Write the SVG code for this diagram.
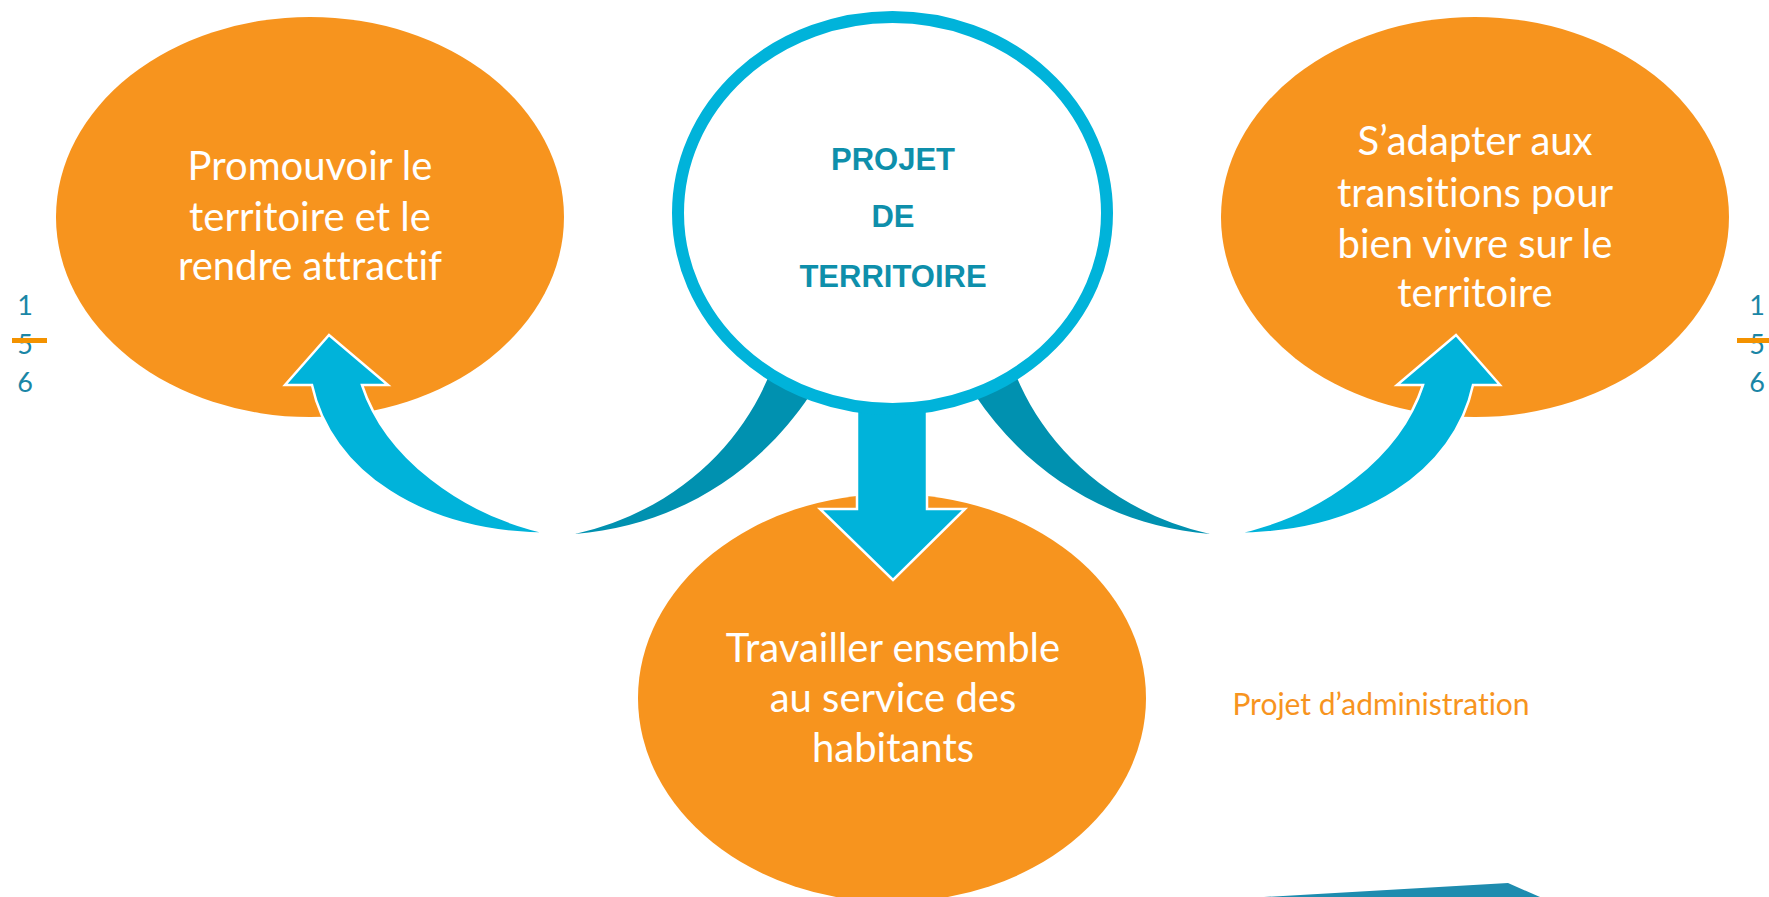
<svg xmlns="http://www.w3.org/2000/svg" width="1769" height="897" viewBox="0 0 1769 897">
<defs>
<style>
.bubble{fill:#F7941E;}
.btxt{fill:#FFFFFF;font-family:Lato,"Open Sans",sans-serif;font-size:40px;text-anchor:middle;font-variant-ligatures:none;}
.light{fill:#00B3DA;stroke:#FFFFFF;stroke-width:2.5;stroke-linejoin:miter;}
.dark{fill:#0091B0;}
.title{fill:#0E8FAB;font-family:"Liberation Sans",Arial,sans-serif;font-weight:bold;font-size:31px;text-anchor:middle;}
.num{fill:#1A86A6;font-family:Lato,"Open Sans",sans-serif;font-size:27px;text-anchor:middle;}
.bar{fill:#F39200;}
</style>
</defs>
<rect width="1769" height="897" fill="#FFFFFF"/>

<g id="node-promouvoir">
<ellipse class="bubble" cx="310" cy="217" rx="254" ry="200"/>
<text class="btxt" x="310" y="180">Promouvoir le</text>
<text class="btxt" x="310" y="231">territoire et le</text>
<text class="btxt" x="310" y="280">rendre attractif</text>
</g>

<g id="node-adapter">
<ellipse class="bubble" cx="1475" cy="217" rx="254" ry="200"/>
<text class="btxt" x="1475" y="155">S’adapter aux</text>
<text class="btxt" x="1475" y="207">transitions pour</text>
<text class="btxt" x="1475" y="258">bien vivre sur le</text>
<text class="btxt" x="1475" y="307">territoire</text>
</g>

<g id="node-travailler">
<ellipse class="bubble" cx="892" cy="698" rx="254" ry="204"/>
<text class="btxt" x="893" y="662">Travailler ensemble</text>
<text class="btxt" x="893" y="712">au service des</text>
<text class="btxt" x="893" y="762">habitants</text>
</g>

<g id="connectors">
<g id="arrow-left">
<path class="dark" d="M575,534 C680,525 760,470 810,395 L772,368 C745,440 680,510 575,534 Z"/>
<path class="light" d="M553,534 C460,515 385,455 362,385 L388,385 L329,335 L285,385 L312,385 C330,470 420,534 553,534 Z"/>
</g>
<g id="arrow-right" transform="translate(1785,0) scale(-1,1)">
<path class="dark" d="M575,534 C680,525 760,470 810,395 L772,368 C745,440 680,510 575,534 Z"/>
<path class="light" d="M553,534 C460,515 385,455 362,385 L388,385 L329,335 L285,385 L312,385 C330,470 420,534 553,534 Z"/>
</g>
<path id="arrow-down" class="light" d="M857,395 L927,395 L927,509 L965,509 L893,580 L820,509 L857,509 Z"/>
</g>

<g id="node-projet">
<ellipse cx="892.5" cy="213" rx="214.5" ry="196" fill="#FFFFFF" stroke="#00B3DA" stroke-width="12"/>
<text class="title" x="893" y="170">PROJET</text>
<text class="title" x="893" y="227">DE</text>
<text class="title" x="893" y="287">TERRITOIRE</text>
</g>

<g id="label-admin">
<text x="1381" y="715" fill="#F7941E" font-family="Lato,'Open Sans',sans-serif" font-size="30" text-anchor="middle" style="font-variant-ligatures:none">Projet d’administration</text>
</g>

<g id="page-left">
<text class="num" x="25" y="315">1</text>
<text class="num" x="25" y="354">5</text>
<text class="num" x="25" y="392">6</text>
<rect class="bar" x="12" y="338" width="35" height="5"/>
</g>
<g id="page-right">
<text class="num" x="1757" y="315">1</text>
<text class="num" x="1757" y="354">5</text>
<text class="num" x="1757" y="392">6</text>
<rect class="bar" x="1737" y="338" width="32" height="5"/>
</g>

<polygon points="1264,897 1508,883 1540,897" fill="#1E8CAF"/>
</svg>
